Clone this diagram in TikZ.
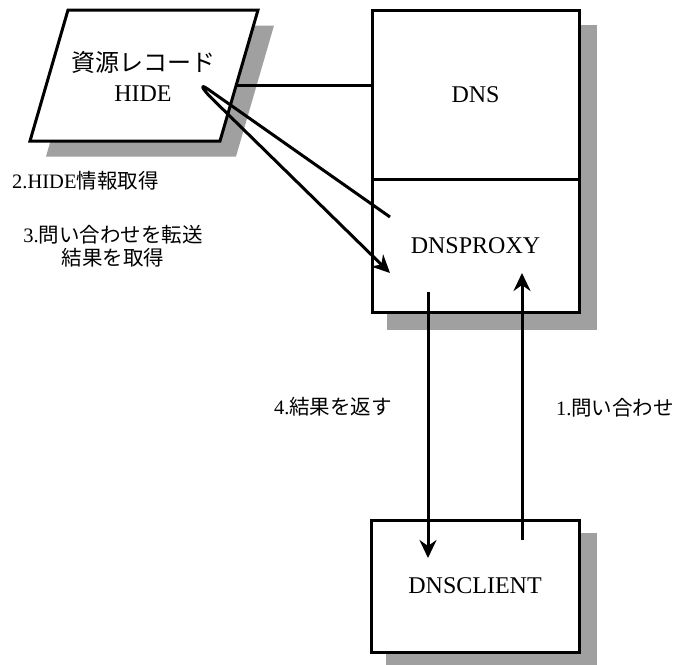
\documentclass[tikz,border=0pt]{standalone}
\usepackage{fontspec}
\setmainfont{Liberation Serif}
\newfontfamily\jp{Noto Sans CJK JP}
\usetikzlibrary{arrows.meta,backgrounds}
\definecolor{shadowgray}{RGB}{160,160,160}
\begin{document}
\begin{tikzpicture}[x=1pt,y=-1pt,
  box/.style={draw=black,line width=3pt,fill=white,rectangle,inner sep=0pt,line join=miter,
    font=\fontsize{24}{30}\selectfont},
  bigtext/.style={font=\fontsize{24}{30}\selectfont,inner sep=0pt,align=center},
  lbl/.style={font=\fontsize{20.5}{23}\selectfont,inner sep=0pt,align=center},
  conn/.style={line width=3pt},
  arr/.style={line width=3pt,line join=round,-{Stealth[length=18pt,width=17pt,inset=6pt]}},
  shade/.style={fill=shadowgray}]
\useasboundingbox (0,0) rectangle (685,664);

% parallelogram (resource record)
\coordinate (pTL) at (68,10);
\coordinate (pTR) at (258,10);
\coordinate (pBR) at (220,141);
\coordinate (pBL) at (30,141);
\draw[line width=3pt,fill=white,line join=miter] (pTL) -- (pTR) -- (pBR) -- (pBL) -- cycle;
\node[bigtext] (res) at (143,76) {{\jp 資源レコード}\\HIDE};

% boxes
\node[box,minimum width=207pt,minimum height=169pt] (dns) at (475.5,94.5) {DNS};
\node[box,minimum width=207pt,minimum height=133pt] (proxy) at (475.5,245.5) {DNSPROXY};
\node[box,minimum width=208pt,minimum height=132pt] (client) at (475,586) {DNSCLIENT};

% shadows
\begin{scope}[on background layer]
  \fill[shade] ([shift={(16,15.5)}]pTL) -- ([shift={(16,15.5)}]pTR) -- ([shift={(16,15.5)}]pBR) -- ([shift={(16,15.5)}]pBL) -- cycle;
  \fill[shade] ([shift={(16,16)}]dns.north west) rectangle ([shift={(16,16)}]proxy.south east);
  \fill[shade] ([shift={(16,14)}]client.north west) rectangle ([shift={(16,14)}]client.south east);
\end{scope}

% connector record -> DNS
\coordinate (pR) at (236.2,85);
\draw[conn] (pR) -- (pR -| dns.west);

% hairpin arrow (2 / 3)
\coordinate (q1) at (390,217);
\coordinate (q2) at (390,273);
\coordinate (hS) at (208,89.2);
\coordinate (hC1) at (198.2,82.3);
\coordinate (hC2) at (203.4,90.2);
\coordinate (hE) at (212,98.6);
\draw[arr] (q1) -- (hS) .. controls (hC1) and (hC2) .. (hE) -- (q2);

% vertical arrows
\coordinate (dTop) at (428,292);
\coordinate (dBot) at (428,558);
\coordinate (uBot) at (522,540);
\coordinate (uTop) at (522,273);
\draw[arr] (dTop) -- (dBot);
\draw[arr] (uBot) -- (uTop);

% labels
\node[lbl,anchor=west] (l2) at (12,181) {2.HIDE{\jp 情報取得}};
\node[lbl] (l3) at (113,246) {3.{\jp 問い合わせを転送}\\{\jp 結果を取得}};
\node[lbl] (l4) at (333,407) {4.{\jp 結果を返す}};
\node[lbl] (l1) at (615,408) {1.{\jp 問い合わせ}};
\end{tikzpicture}
\end{document}
